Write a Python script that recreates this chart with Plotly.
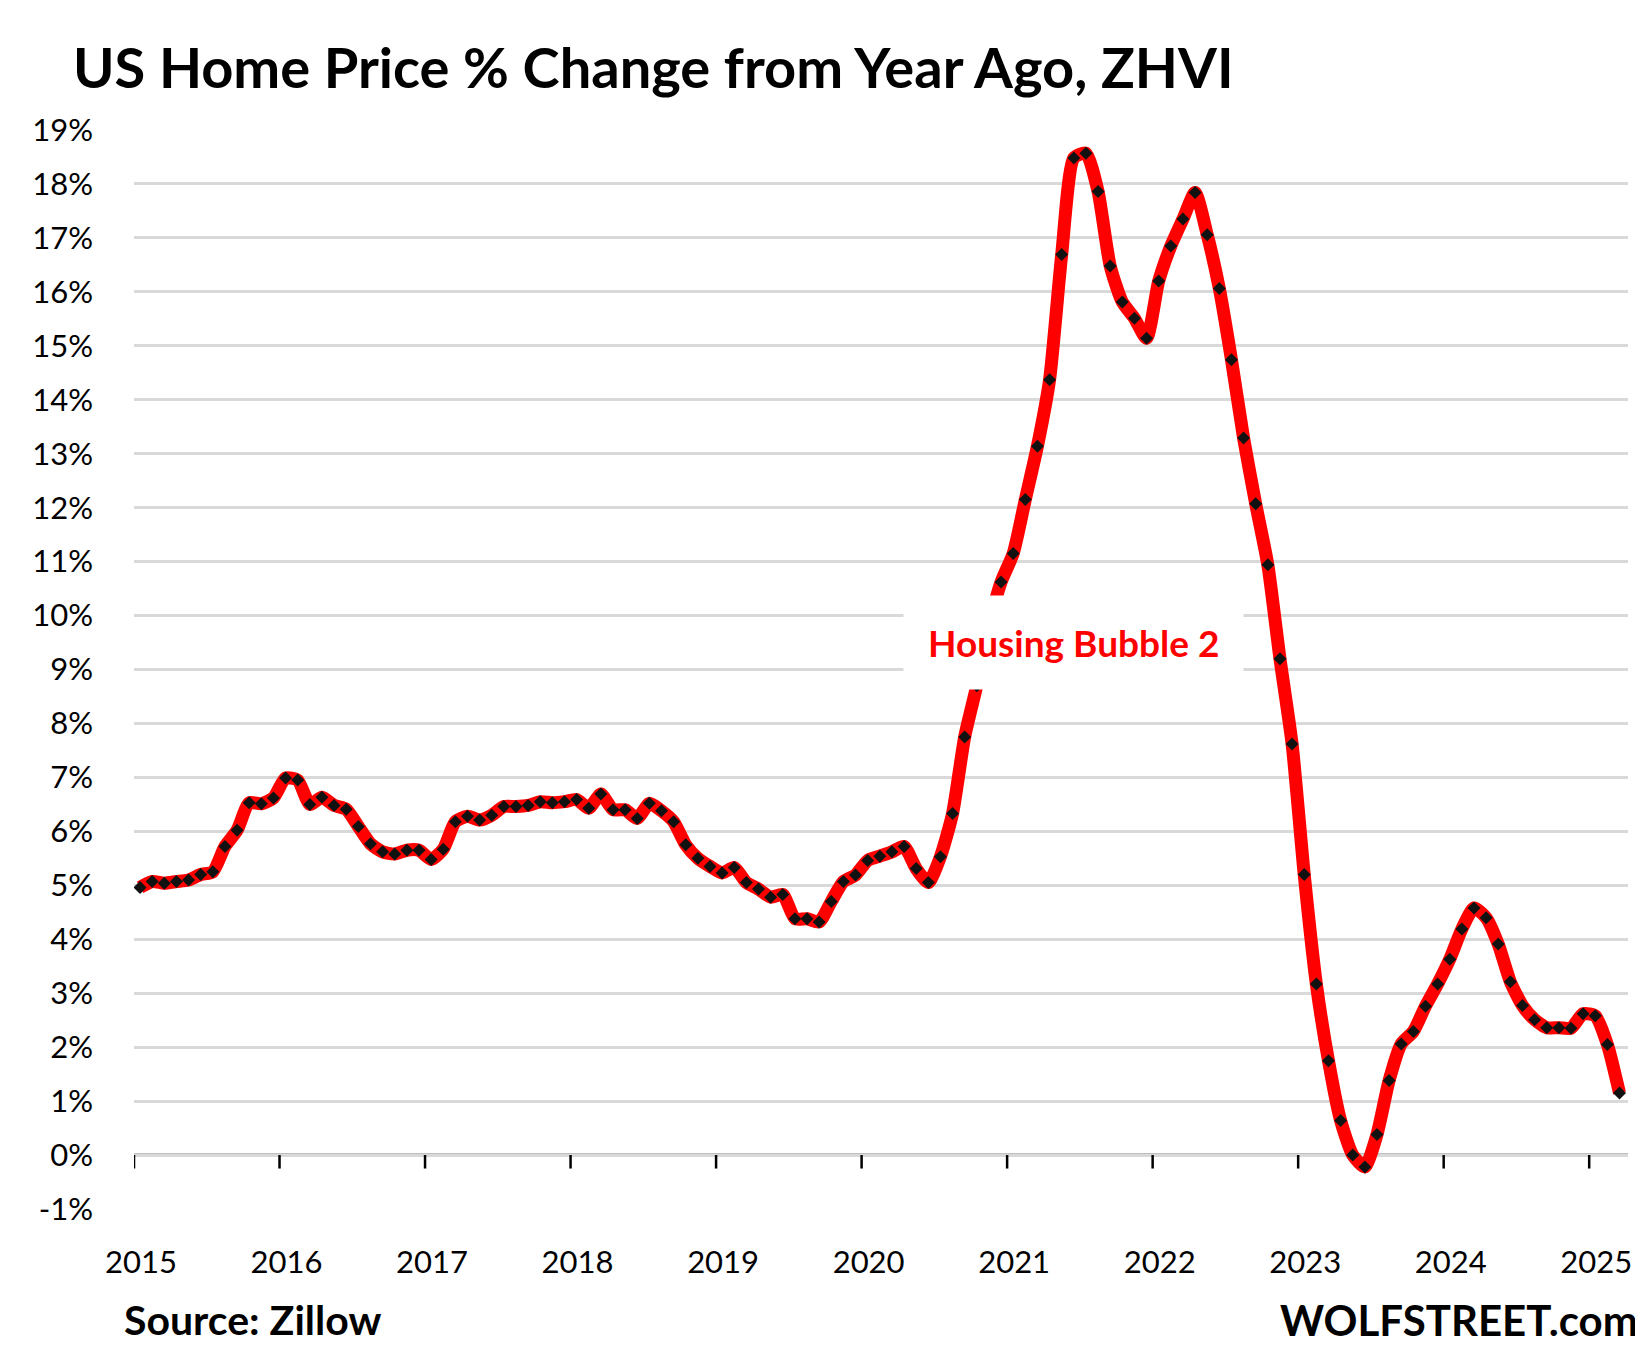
import plotly.graph_objects as go

# monthly YoY % change, Jan 2015 .. Mar 2025
values = [
    4.96, 5.07, 5.04, 5.07, 5.10, 5.20, 5.25, 5.72, 6.02, 6.53, 6.51, 6.62,
    6.99, 6.95, 6.50, 6.63, 6.48, 6.41, 6.09, 5.77, 5.62, 5.58, 5.65, 5.65,
    5.48, 5.67, 6.18, 6.28, 6.21, 6.30, 6.46, 6.46, 6.48, 6.55, 6.53, 6.55,
    6.59, 6.43, 6.69, 6.40, 6.40, 6.24, 6.52, 6.38, 6.18, 5.75, 5.50, 5.35,
    5.23, 5.33, 5.05, 4.93, 4.78, 4.83, 4.38, 4.38, 4.32, 4.70, 5.07, 5.19,
    5.46, 5.54, 5.62, 5.72, 5.31, 5.05, 5.53, 6.33, 7.75, 8.70, 9.80, 10.62,
    11.15, 12.15, 13.14, 14.37, 16.69, 18.48, 18.57, 17.86, 16.48, 15.81, 15.51, 15.14,
    16.20, 16.85, 17.35, 17.84, 17.06, 16.06, 14.74, 13.29, 12.07, 10.94, 9.20, 7.62,
    5.20, 3.17, 1.75, 0.64, 0.00, -0.22, 0.38, 1.38, 2.06, 2.29, 2.76, 3.17,
    3.63, 4.19, 4.58, 4.40, 3.91, 3.21, 2.77, 2.51, 2.36, 2.36, 2.35, 2.62,
    2.58, 2.05, 1.15,
]
years = [str(y) for y in range(2015, 2026)]
months = list(range(len(values)))
year_pos = [12 * i - 0.5 for i in range(len(years))]
y_ticks = list(range(-1, 20))

fig = go.Figure()
fig.add_trace(go.Scatter(x=months, y=values, mode="lines", line=dict(color="#ff0000", width=13, shape="spline", smoothing=0.6), hoverinfo="skip"))
fig.add_trace(go.Scatter(x=months, y=values, mode="markers", marker=dict(symbol="diamond", size=10, color="#111111")))

for p in year_pos:
    fig.add_shape(type="line", x0=p, x1=p, y0=0, y1=-0.25, line=dict(color="black", width=2.5))
fig.add_shape(type="line", x0=-0.5, x1=122.7, y0=0, y1=0, line=dict(color="black", width=2.5), layer="below")

fig.add_annotation(x=91, y=9.5, text="<b>Housing Bubble 2</b>", showarrow=False, xanchor="right",
                   font=dict(size=37, color="#ff0000", family="Lato"), bgcolor="white", borderpad=24)
fig.add_annotation(x=0.0, y=1.0, xref="paper", yref="paper", xshift=-63, yshift=28, xanchor="left", yanchor="bottom",
                   text="<b>US Home Price % Change from Year Ago, ZHVI</b>", showarrow=False,
                   font=dict(size=56, color="black", family="Lato"))
fig.add_annotation(x=0.0, y=0, xref="paper", yref="paper", xanchor="left", yanchor="top", xshift=-12, yshift=-84,
                   text="<b>Source: Zillow</b>", showarrow=False, font=dict(size=41, color="black", family="Lato"))
fig.add_annotation(x=1.0, y=0, xref="paper", yref="paper", xanchor="right", yanchor="top", xshift=12, yshift=-84,
                   text="<b>WOLFSTREET.com</b>", showarrow=False, font=dict(size=42, color="black", family="Lato"))

fig.update_layout(
    width=1643, height=1358, showlegend=False,
    paper_bgcolor="white", plot_bgcolor="white",
    margin=dict(l=126, r=23, t=122, b=157),
    font=dict(family="Lato", size=31, color="black"),
)
fig.update_xaxes(range=[-0.5, 122.7], tickvals=year_pos, ticktext=years, showgrid=False, zeroline=False,
                 ticks="", ticklabelstandoff=32, ticklabelshift=7)
fig.update_yaxes(range=[-1, 19], tickvals=y_ticks, ticktext=[f"{v}%" for v in y_ticks],
                 showgrid=True, gridcolor="#d9d9d9", gridwidth=3, zeroline=False, ticks="", ticklabelstandoff=40)

fig.write_html("out.html")
